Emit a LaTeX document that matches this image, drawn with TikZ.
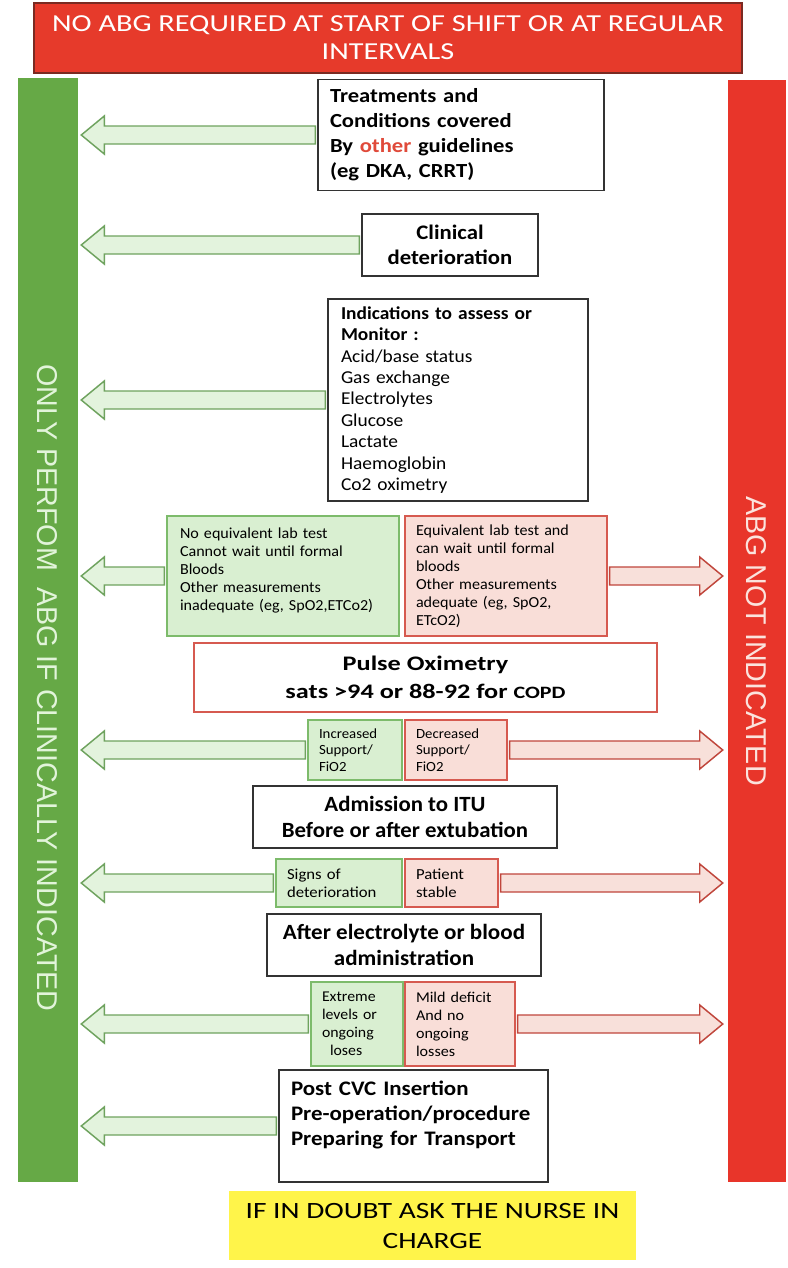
\documentclass[tikz,border=0pt]{standalone}
\usepackage{fontspec}
\setmainfont{Carlito}
\newfontfamily\barfont{Liberation Sans}
\usetikzlibrary{calc}
\definecolor{hdrred}{HTML}{E63A2B}
\definecolor{hdrline}{HTML}{7A2A22}
\definecolor{gbarc}{HTML}{66A946}
\definecolor{rbarc}{HTML}{E8352A}
\definecolor{gfill}{HTML}{D9EFD1}
\definecolor{gline}{HTML}{7DBB6B}
\definecolor{rfill}{HTML}{F9DED8}
\definecolor{rline}{HTML}{D65A50}
\definecolor{gafill}{HTML}{E3F3DD}
\definecolor{galine}{HTML}{6FA35F}
\definecolor{rafill}{HTML}{F8E0DA}
\definecolor{raline}{HTML}{C0463C}
\definecolor{yel}{HTML}{FFF44A}
\definecolor{othred}{HTML}{E04A3A}
\definecolor{gtext}{HTML}{E2F4DA}
\definecolor{rtext}{HTML}{FBE3DD}
\definecolor{bline}{HTML}{333333}
\newcommand{\fsz}[3]{\fontsize{#1}{#2}\selectfont\addfontfeature{FakeStretch=#3}}
\newcommand{\blockL}[3]{%
  \path[#3] let \p1=(#1), \p2=(#2) in
    ($(\x1-1.5pt,\y1+6.75pt)$) -- ($(\x2+19.5pt,\y1+6.75pt)$) -- ($(\x2+19.5pt,\y1+14.25pt)$)
    -- ($(\x2+2.25pt,\y1)$) -- ($(\x2+19.5pt,\y1-14.25pt)$) -- ($(\x2+19.5pt,\y1-6.75pt)$)
    -- ($(\x1-1.5pt,\y1-6.75pt)$) -- cycle;}
\newcommand{\blockR}[3]{%
  \path[#3] let \p1=(#1), \p2=(#2) in
    ($(\x1+1.5pt,\y1+6.75pt)$) -- ($(\x2-21pt,\y1+6.75pt)$) -- ($(\x2-21pt,\y1+14.25pt)$)
    -- ($(\x2-3.75pt,\y1)$) -- ($(\x2-21pt,\y1-14.25pt)$) -- ($(\x2-21pt,\y1-6.75pt)$)
    -- ($(\x1+1.5pt,\y1-6.75pt)$) -- cycle;}
\begin{document}
\begin{tikzpicture}[x=0.75pt,y=-0.75pt,
  wbox/.style={draw=bline, line width=1pt, fill=white, inner sep=0pt},
  gbox/.style={draw=gline, line width=1pt, fill=gfill, inner ysep=0pt, inner xsep=8.25pt, align=left},
  rbox/.style={draw=rline, line width=1pt, fill=rfill, inner ysep=0pt, inner xsep=8.25pt, align=left},
  garrow/.style={draw=galine, fill=gafill, line width=1.1pt, line join=miter},
  rarrow/.style={draw=raline, fill=rafill, line width=1.1pt, line join=miter}]
\useasboundingbox (0,0) rectangle (788,1268);
\fill[white] (0,0) rectangle (788,1268);
% header
\node[draw=hdrline, line width=1pt, fill=hdrred, minimum width=531pt, minimum height=52.5pt,
  text=white, align=center, font=\fsz{18.3}{21}{1.24}, inner sep=0pt] (head) at (388,38)
  {NO ABG REQUIRED AT START OF SHIFT OR AT REGULAR\\INTERVALS};
% side bars
\node[fill=gbarc, minimum width=45pt, minimum height=828pt, inner sep=0pt] (gbar) at (48,630) {};
\node[fill=rbarc, minimum width=43.5pt, minimum height=826.5pt, inner sep=0pt] (rbar) at (757,631) {};
\node[rotate=-90, text=gtext, font=\barfont\fontsize{21.5}{24}\selectfont, inner sep=0pt] (gtxt) at (47,688)
  {ONLY PERFOM\ \ ABG IF CLINICALLY INDICATED};
\node[rotate=-90, text=rtext, font=\barfont\fontsize{21.5}{24}\selectfont, inner sep=0pt] (rtxt) at (756,641)
  {ABG NOT INDICATED};
% boxes
\node[wbox, minimum width=214.5pt, minimum height=83.25pt, text width=196.5pt, inner xsep=9pt, align=left,
  font=\bfseries\fsz{15}{18.75}{1.13}] (b1) at (461,135)
  {Treatments and\\Conditions covered\\By \textcolor{othred}{other} guidelines\\(eg DKA, CRRT)};
\node[wbox, minimum width=132pt, minimum height=46.5pt, align=center,
  font=\bfseries\fsz{15.5}{18.75}{1.1}] (b2) at (450,245)
  {Clinical\\deterioration};
\node[wbox, minimum width=195pt, minimum height=151.5pt, text width=175.5pt, inner xsep=9.75pt, align=left,
  font=\fsz{13.6}{16.1}{1.07}] (b3) at (458,400)
  {\textbf{Indications to assess or}\\\textbf{Monitor :}\\Acid/base status\\Gas exchange\\Electrolytes\\Glucose\\Lactate\\Haemoglobin\\Co2 oximetry\\[-14pt]\mbox{}};
\node[gbox, minimum width=174pt, minimum height=90pt, text width=154.5pt, inner xsep=9.75pt,
  font=\fsz{11.5}{13.5}{1.05}] (g4) at (283,576)
  {No equivalent lab test\\Cannot wait until formal\\Bloods\\Other measurements\\inadequate (eg, SpO2,ETCo2)\\[-4pt]\mbox{}};
\node[rbox, minimum width=151.5pt, minimum height=90pt, text width=135pt,
  font=\fsz{11.5}{13.5}{1.05}] (r4) at (506,576)
  {Equivalent lab test and\\can wait until formal\\bloods\\Other measurements\\adequate (eg, SpO2,\\ETcO2)};
\node[draw=rline, line width=1pt, fill=white, minimum width=347.25pt, minimum height=51.75pt, inner sep=0pt, align=center,
  font=\bfseries\fsz{15.5}{21}{1.27}] (po) at (425.5,677.5)
  {Pulse Oximetry\\sats >94 or 88-92 for {\fontsize{13}{21}\selectfont COPD}};
\node[gbox, minimum width=70.5pt, minimum height=45pt, text width=54pt,
  font=\fsz{10.5}{12.5}{1.06}] (g6) at (355,750)
  {Increased\\Support/\\FiO2};
\node[rbox, minimum width=76.5pt, minimum height=45pt, text width=60pt,
  font=\fsz{10.5}{12.5}{1.06}] (r6) at (456,750)
  {Decreased\\Support/\\FiO2};
\node[wbox, minimum width=228pt, minimum height=46.5pt, align=center,
  font=\bfseries\fsz{16.3}{19.5}{1.05}] (b7) at (405,817)
  {Admission to ITU\\Before or after extubation};
\node[gbox, minimum width=94.5pt, minimum height=36pt, text width=78pt,
  font=\fsz{11.5}{13.5}{1.09}] (g8) at (339,883)
  {Signs of\\deterioration};
\node[rbox, minimum width=69.75pt, minimum height=36pt, text width=53.25pt,
  font=\fsz{11.5}{13.5}{1.09}] (r8) at (451.5,883)
  {Patient\\stable};
\node[wbox, minimum width=205.5pt, minimum height=46.5pt, align=center,
  font=\bfseries\fsz{16.3}{19.5}{1.06}] (b9) at (404,945)
  {After electrolyte or blood\\administration};
\node[gbox, minimum width=69pt, minimum height=63pt, text width=52.5pt,
  font=\fsz{11.2}{13.5}{1.06}] (g10) at (357,1024)
  {Extreme\\levels or\\ongoing\\\hspace*{6pt}loses};
\node[rbox, minimum width=82.5pt, minimum height=63pt, text width=66pt,
  font=\fsz{11.2}{13.5}{1.08}] (r10) at (460,1024)
  {Mild deficit\\And no\\ongoing\\losses};
\node[wbox, minimum width=201.75pt, minimum height=84pt, text width=183.75pt, inner xsep=9pt, align=left,
  font=\bfseries\fsz{15.5}{19}{1.11}] (b11) at (413.5,1126)
  {Post CVC Insertion\\Pre-operation/procedure\\Preparing for Transport\\\mbox{}};
\node[fill=yel, minimum width=305.25pt, minimum height=51.75pt, inner sep=0pt, align=center,
  font=\fsz{17.5}{22.5}{1.26}] (yel) at (432.5,1225.5)
  {IF IN DOUBT ASK THE NURSE IN\\CHARGE};
% arrows
\blockL{b1.west}{gbar.east}{garrow}
\blockL{b2.west}{gbar.east}{garrow}
\blockL{b3.west}{gbar.east}{garrow}
\blockL{g4.west}{gbar.east}{garrow}
\blockR{r4.east}{rbar.west}{rarrow}
\blockL{g6.west}{gbar.east}{garrow}
\blockR{r6.east}{rbar.west}{rarrow}
\blockL{g8.west}{gbar.east}{garrow}
\blockR{r8.east}{rbar.west}{rarrow}
\blockL{g10.west}{gbar.east}{garrow}
\blockR{r10.east}{rbar.west}{rarrow}
\blockL{b11.west}{gbar.east}{garrow}
\end{tikzpicture}
\end{document}
